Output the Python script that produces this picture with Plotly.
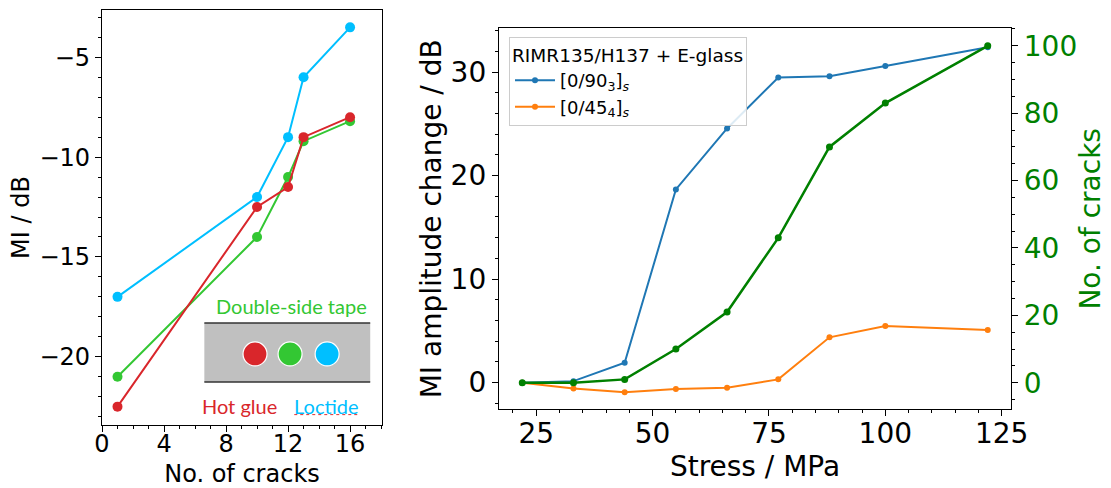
import plotly.graph_objects as go

# ---------------- data ----------------
# Left panel: MI vs number of cracks for three bonding methods
cracks_left = [1, 10, 12, 13, 16]
mi_loctide = [-17.0, -12.0, -9.0, -6.0, -3.5]
mi_hotglue = [-22.5, -12.5, -11.5, -9.0, -8.0]
mi_tape = [-21.0, -14.0, -11.0, -9.2, -8.2]

# Right panel: MI amplitude change and crack count vs stress
stress = [22, 33, 44, 55, 66, 77, 88, 100, 122]
mi_090 = [0.0, 0.15, 1.93, 18.66, 24.55, 29.47, 29.6, 30.57, 32.4]
mi_045 = [0.0, -0.55, -0.93, -0.61, -0.48, 0.32, 4.38, 5.47, 5.08]
n_cracks = [0, 0, 1, 10, 21, 43, 70, 83, 100]

legend_title = "RIMR135/H137 + E-glass"
label_090 = "[0/90<sub>3</sub>]<sub><i>s</i></sub>"
label_045 = "[0/45<sub>4</sub>]<sub><i>s</i></sub>"

# ---------------- styles ----------------
W, H = 1111, 488
FONT = "DejaVu Sans"
C_LOC = "#00bfff"
C_HOT = "#d9262b"
C_TAPE = "#33c733"
C_BLUE = "#1f77b4"
C_ORANGE = "#ff7f0e"
C_GREEN = "#008000"

fig = go.Figure()

def left_trace(y, color):
    fig.add_trace(go.Scatter(
        x=cracks_left, y=y, mode="lines+markers", xaxis="x", yaxis="y",
        line=dict(color=color, width=2),
        marker=dict(color=color, size=10), showlegend=False))

left_trace(mi_loctide, C_LOC)
left_trace(mi_tape, C_TAPE)
left_trace(mi_hotglue, C_HOT)

fig.add_trace(go.Scatter(
    x=stress, y=mi_090, mode="lines+markers", xaxis="x2", yaxis="y2",
    name=label_090, line=dict(color=C_BLUE, width=2),
    marker=dict(color=C_BLUE, size=6)))
fig.add_trace(go.Scatter(
    x=stress, y=mi_045, mode="lines+markers", xaxis="x2", yaxis="y2",
    name=label_045, line=dict(color=C_ORANGE, width=2),
    marker=dict(color=C_ORANGE, size=6)))
fig.add_trace(go.Scatter(
    x=stress, y=n_cracks, mode="lines+markers", xaxis="x2", yaxis="y3",
    showlegend=False, line=dict(color=C_GREEN, width=2.5),
    marker=dict(color=C_GREEN, size=7)))

axis_common = dict(showline=True, linecolor="black", linewidth=1.3,
                   ticks="outside", ticklen=6, tickwidth=1.2, tickcolor="black",
                   showgrid=False, zeroline=False, automargin=False)

def minor(d):
    return dict(ticks="outside", ticklen=3, tickwidth=1, tickcolor="black", dtick=d, showgrid=False)

fig.update_layout(
    width=W, height=H, autosize=False,
    margin=dict(l=0, r=0, t=0, b=0),
    paper_bgcolor="white", plot_bgcolor="white",
    font=dict(family=FONT, color="black"),
    xaxis=dict(domain=[102 / W, 382 / W], range=[0, 18.06], anchor="y",
               tickmode="linear", tick0=0, dtick=4, mirror=True,
               minor=minor(1), tickfont=dict(size=24), ticklabelstandoff=-9,
               title=dict(text="No. of cracks", font=dict(size=24), standoff=17),
               **axis_common),
    yaxis=dict(domain=[1 - 425 / H, 1 - 10 / H], range=[-23.42, -2.63], anchor="x",
               tickmode="linear", tick0=0, dtick=5, mirror=True,
               minor=minor(1), tickfont=dict(size=24),
               title=dict(text="MI / dB", font=dict(size=24), standoff=2),
               **axis_common),
    xaxis2=dict(domain=[499 / W, 1011 / W], range=[17.0, 127.0], anchor="y2",
                tickmode="linear", tick0=0, dtick=25, mirror=True,
                minor=minor(5), tickfont=dict(size=28), ticklabelstandoff=-7,
                title=dict(text="Stress / MPa", font=dict(size=28), standoff=2),
                **axis_common),
    yaxis2=dict(domain=[1 - 409.3 / H, 1 - 28.3 / H], range=[-2.57, 34.22], anchor="x2",
                tickmode="linear", tick0=0, dtick=10, mirror=True,
                minor=minor(2), tickfont=dict(size=28),
                title=dict(text="MI amplitude change / dB", font=dict(size=28), standoff=0),
                **axis_common),
    yaxis3=dict(overlaying="y2", side="right", anchor="x2", range=[-7.88, 105.2],
                tickmode="linear", tick0=0, dtick=20,
                showline=True, linecolor="black", linewidth=1.3,
                ticks="outside", ticklen=6, tickwidth=1.2, tickcolor="black",
                showgrid=False, zeroline=False, automargin=False,
                minor=minor(5), tickfont=dict(size=28, color=C_GREEN),
                title=dict(text="No. of cracks", font=dict(size=28, color=C_GREEN), standoff=4)),
    legend=dict(x=509 / W, y=1 - 37 / H, xanchor="left", yanchor="top",
                bgcolor="rgba(255,255,255,0.85)", bordercolor="#cccccc", borderwidth=1,
                font=dict(size=18, family=FONT),
                title=dict(text=legend_title, font=dict(size=18.5, family=FONT)),
                itemwidth=40, tracegroupgap=0),
)

# ---------------- inset sketch in left panel ----------------
fig.add_shape(type="rect", xref="x", yref="y", x0=6.6, x1=17.3, y0=-21.27, y1=-18.31,
              fillcolor="#c0c0c0", line=dict(width=0), layer="above")
for yy in (-18.31, -21.27):
    fig.add_shape(type="line", xref="x", yref="y", x0=6.6, x1=17.3, y0=yy, y1=yy,
                  line=dict(color="#333333", width=1.5), layer="above")
for cx, col in ((9.87, C_HOT), (12.13, C_TAPE), (14.52, C_LOC)):
    fig.add_shape(type="circle", xref="x", yref="y", xsizemode="pixel", ysizemode="pixel",
                  xanchor=cx, yanchor=-19.86, x0=-12, x1=12, y0=-12, y1=12,
                  fillcolor=col, line=dict(color="white", width=1.2), layer="above")

LBL = "Lato"
fig.add_annotation(xref="x", yref="y", x=12.2, y=-17.45, text="Double-side tape",
                   showarrow=False, font=dict(family=LBL, size=20, color=C_TAPE))
fig.add_annotation(xref="x", yref="y", x=8.9, y=-22.45, text="Hot glue",
                   showarrow=False, font=dict(family=LBL, size=20, color=C_HOT))
fig.add_annotation(xref="x", yref="y", x=14.5, y=-22.45, text="Loctide",
                   showarrow=False, font=dict(family=LBL, size=20, color=C_LOC))
fig.add_shape(type="line", xref="x", yref="y", x0=12.4, x1=16.6, y0=-22.9, y1=-22.9,
              line=dict(color="#e03030", width=1, dash="dot"))

fig.write_html("out.html", config={"displayModeBar": False},
               post_script="document.body.style.margin='0';")
